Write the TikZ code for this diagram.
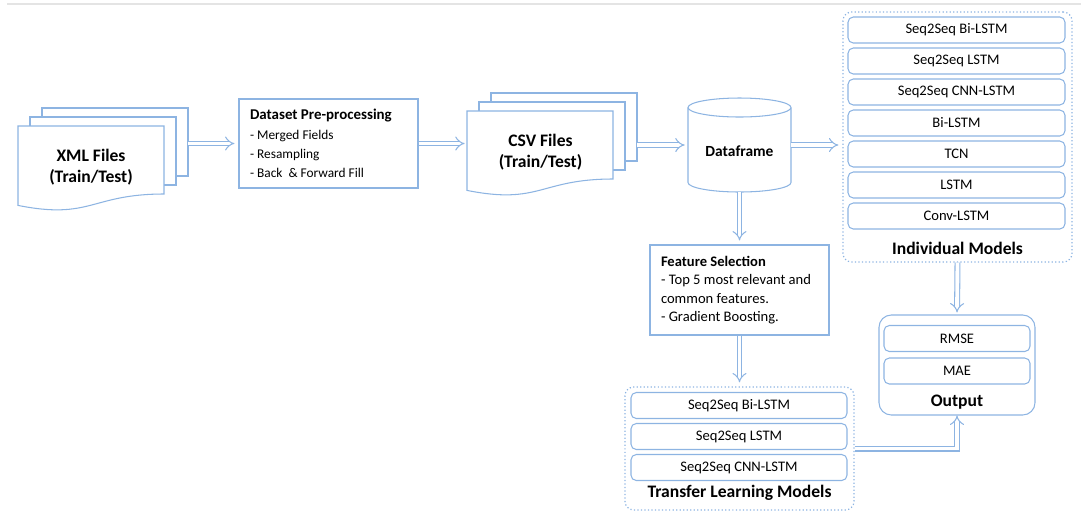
\documentclass[tikz,border=0pt]{standalone}
\usepackage{fontspec}
\setmainfont{Carlito}
\usetikzlibrary{arrows.meta,positioning,calc}
\definecolor{boxblue}{RGB}{141,180,226}
\definecolor{rulegray}{RGB}{228,228,228}
\newcommand{\px}{0.02cm}

\tikzset{
  sheet/.style={draw=boxblue, fill=white, line width=0.6pt},
  pbox/.style={draw=boxblue, line width=0.6pt, align=flush left, minimum width=179*\px},
  mbox/.style={draw=boxblue, line width=0.6pt, rounded corners=3pt, minimum height=26*\px, inner sep=0pt, font=\fontsize{8.3}{10}\selectfont},
  grp/.style={draw=boxblue, line width=0.7pt, dash pattern=on 0.7pt off 1.3pt, rounded corners=5pt},
  ttl/.style={font=\bfseries\fontsize{10}{12}\selectfont},
  dbl/.style={draw=boxblue, line width=0.6pt, double=white, double distance=2.2pt, -{Implies[length=4pt, width=9pt]}},
}

\begin{document}
\begin{tikzpicture}[x=0.02cm, y=-0.02cm]
    \useasboundingbox (0,0) rectangle (1081,515);
    \draw[rulegray, line width=0.6pt] (7,4) -- (1081,4);

    % stacked file sheets
    \foreach \sx/\sy in {18/126, 467/111} {
        \foreach \k in {2,1} {
            \draw[sheet] (\sx+12*\k, \sy-9*\k) rectangle ++(146,68);
        }
        \draw[sheet] (\sx,\sy) -- ++(146,0) -- ++(0,68)
            .. controls (\sx+73,\sy+68) and (\sx+73,\sy+94) .. (\sx,\sy+79.4) -- cycle;
    }
    \node (xmlstack) [minimum width=170*\px, minimum height=98*\px] at (103,157) {};
    \node (csvstack) [minimum width=170*\px, minimum height=97*\px] at (552,141.5) {};
    \node (xml) [ttl, align=center] at (91,167.5) {XML Files\\(Train/Test)};
    \node (csv) [ttl, align=center] at (540.5,152.5) {CSV Files\\(Train/Test)};

    % processing boxes
    \node (pre) [pbox, minimum height=89*\px, text width=157*\px, font=\fontsize{7.6}{11}\selectfont] at (328.5,143.5)
        {\spaceskip=0pt\xspaceskip=0pt\textbf{\fontsize{8.5}{11}\selectfont Dataset Pre-processing}\\- Merged Fields\\- Resampling\\- Back\ \ \& Forward Fill};
    \node (fs) [pbox, minimum height=90*\px, text width=157*\px, font=\fontsize{8.3}{10.4}\selectfont] at (739.5,290)
        {\spaceskip=0pt\xspaceskip=0pt\textbf{Feature Selection}\\- Top 5 most relevant and\\common features.\\- Gradient Boosting.};

    % dataframe
    \node (df) [minimum width=103*\px, minimum height=94*\px] at (739.5,145) {};
    \draw[sheet] (688,107.5) -- (688,182.5) arc[start angle=180, end angle=0, x radius=51.5, y radius=9.5] -- (791,107.5);
    \draw[sheet] (739.5,107.5) ellipse [x radius=51.5, y radius=9.5];
    \node (dft) [font=\bfseries\fontsize{8.8}{10}\selectfont] at (739.5,151) {Dataframe};

    % individual models
    \node (im) [grp, minimum width=229*\px, minimum height=250*\px] at (957.5,137) {};
    \foreach \lbl [count=\i] in {Seq2Seq Bi-LSTM, Seq2Seq LSTM, Seq2Seq CNN-LSTM, Bi-LSTM, TCN, LSTM, Conv-LSTM} {
        \node (im\i) [mbox, minimum width=217*\px] at (956.5,{30+31*(\i-1)}) {\lbl};
    }
    \node (imt) [ttl] at (957.5,248) {Individual Models};

    % transfer learning models
    \node (tlm) [grp, minimum width=229*\px, minimum height=123*\px] at (739.5,448.5) {};
    \foreach \lbl [count=\i] in {Seq2Seq Bi-LSTM, Seq2Seq LSTM, Seq2Seq CNN-LSTM} {
        \node (tl\i) [mbox, minimum width=216*\px] at (739,{405.5+31*(\i-1)}) {\lbl};
    }
    \node (tlt) [ttl] at (739.5,493) {Transfer Learning Models};

    % output
    \node (out) [draw=boxblue, line width=0.6pt, rounded corners=7pt, minimum width=156*\px, minimum height=100*\px] at (957,365) {};
    \node (rmse) [mbox, minimum width=146*\px] at (957,338.5) {RMSE};
    \node (mae) [mbox, minimum width=146*\px] at (957,371) {MAE};
    \node (outt) [ttl] at (957,402) {Output};

    % connectors
    \draw[dbl, shorten >=4*\px] (xmlstack.east |- pre.west) -- (pre.west);
    \draw[dbl, shorten >=2*\px] (pre.east) -- (csvstack.west |- pre.east);
    \draw[dbl, shorten >=3*\px] (csvstack.east |- df.west) -- (df.west);
    \draw[dbl, shorten >=4*\px] (df.east) -- (df.east -| im.west);
    \draw[dbl, shorten >=4*\px] (df.south) -- (fs.north);
    \draw[dbl, shorten >=4*\px] (fs.south) -- (tlm.north);
    \draw[dbl, shorten >=2*\px] (im.south) -- (out.north);
    \draw[dbl] (tlm.east) -| (out.south);
\end{tikzpicture}
\end{document}
